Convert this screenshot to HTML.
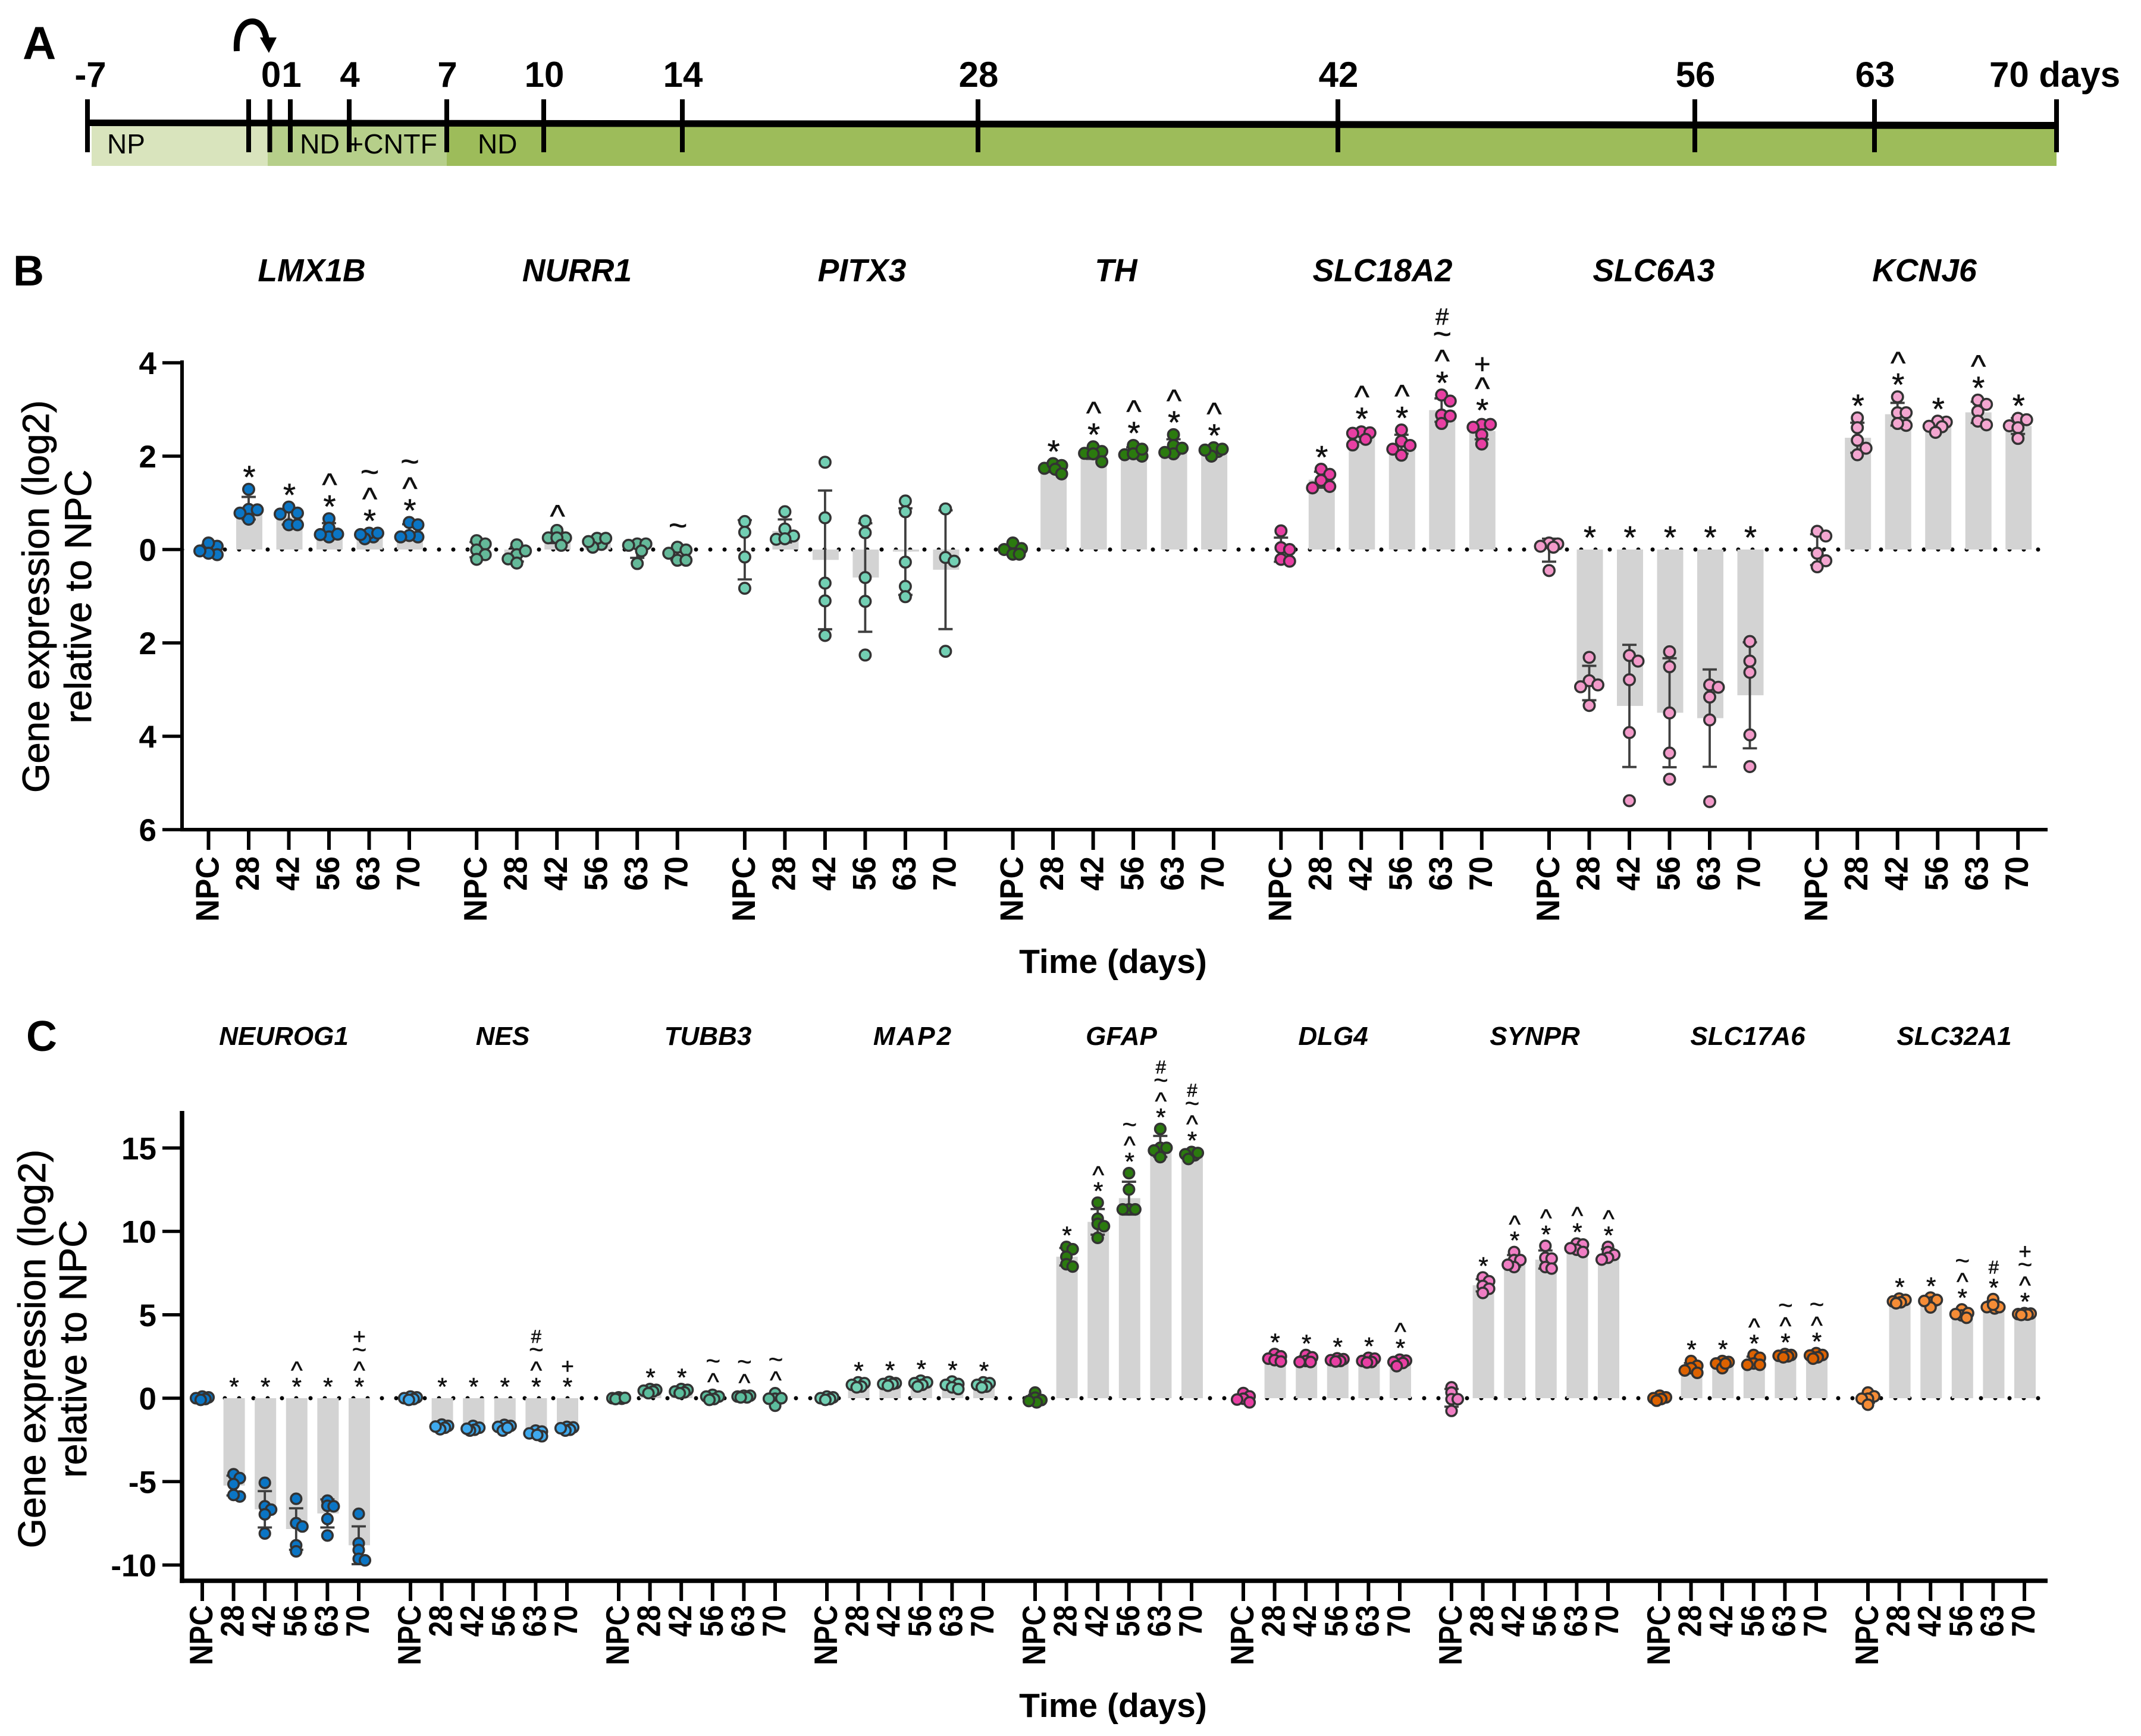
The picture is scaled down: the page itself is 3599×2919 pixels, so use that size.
<!DOCTYPE html>
<html lang="en">
<head>
<meta charset="utf-8">
<title>Gene expression time course</title>
<style>
html,body{margin:0;padding:0;background:#fff;}
svg{display:block;font-family:"Liberation Sans",Arial,sans-serif;}
</style>
</head>
<body>
<svg id="figure" xmlns="http://www.w3.org/2000/svg" width="3599" height="2919" viewBox="0 0 3599 2919">
  <rect x="0" y="0" width="3599" height="2919" fill="#fff"/>
  <g id="panel-a">
    <text x="38" y="99" font-size="78" font-weight="700">A</text>
    <rect x="154" y="212" width="296" height="67" fill="#d9e4bd"/>
    <rect x="450" y="212" width="301" height="67" fill="#b6cf8a"/>
    <rect x="751" y="212" width="2706" height="67" fill="#9dbc5a"/>
    <polygon points="147,201 3457,205 3457,217 147,212" fill="#000"/>
    <g id="timeline-ticks"></g>
    <g font-size="60" font-weight="700" text-anchor="middle" id="timeline-labels"></g>
    <text x="180" y="258" font-size="46">NP</text>
    <text x="504" y="258" font-size="46" textLength="231" lengthAdjust="spacingAndGlyphs">ND +CNTF</text>
    <text x="803" y="258" font-size="46">ND</text>
    <path d="M398,86 C396,50 410,36 424,36 C436,36 444,46 448,66" fill="none" stroke="#000" stroke-width="10"/>
    <polygon points="437,63 465,63 452,89" fill="#000"/>
  </g>
  <g id="panel-b"></g>
  <g id="panel-c"></g>
</svg>
<script>
/* ---------- Timeline data ---------- */
const timelineDays = [-7, 0, 1, 4, 7, 10, 14, 28, 42, 56, 63, 70];
const timelineLabels = ['-7', '0', '1', '4', '7', '10', '14', '28', '42', '56', '63', '70 days'];

/* ---------- Shared categories ---------- */
const timepoints = ['NPC', '28', '42', '56', '63', '70'];

/* ---------- Panel B data ---------- */
const panelBGenes = ['LMX1B', 'NURR1', 'PITX3', 'TH', 'SLC18A2', 'SLC6A3', 'KCNJ6'];
const panelBColors = ['#0b75c4', '#64b999', '#72cfb3', '#2b7a0f', '#e83fa3', '#f29ac9', '#f3a6d0'];
const panelBTickValues = [4, 2, 0, -2, -4, -6];
const panelBTickLabels = ['4', '2', '0', '2', '4', '6'];

const lmx1bValues = [[.07,.14,-.11,-.08,-.03],[1.29,.86,.65,.85,.78],[.91,.78,.53,.53,.76],[.66,.46,.27,.32,.33],[.27,.35,.35,.23,.32],[.58,.27,.30,.53,.27]];
const nurr1Values = [[.19,.12,-.01,-.11,-.21],[.10,-.11,-.03,-.2,-.29],[.41,.25,.25,.25,.09],[.11,.24,.24,.05,.17],[.12,.12,.09,-.03,-.30],[.05,-.01,-.08,-.23,-.23]];
const pitx3Values = [[.60,.37,-.16,-.83],[.81,.44,.29,.22,.23],[1.87,.68,-.72,-1.1,-1.84],[.61,.36,-.6,-1.11,-2.26],[1.04,.81,-.27,-.79,-1.01],[.87,-.17,-.25,-2.18]];
const thValues = [[.14,0,.02,-.1,-.1],[1.74,1.84,1.80,1.72,1.62],[2.2,2.1,2.06,2.05,1.88],[2.23,2.03,2.0,2.05,2.15],[2.46,2.23,2.05,2.08,2.17],[2.1,2.18,2.15,2.0,2.13]];
const slc18a2Values = [[.4,.04,0,-.21,-.25],[1.72,1.61,1.48,1.35,1.32],[2.52,2.5,2.36,2.49,2.24],[2.56,2.32,2.23,2.15,2.02],[3.31,3.18,2.88,2.86,2.7],[2.68,2.62,2.68,2.46,2.26]];
const slc6a3Values = [[.14,.12,.05,.07,-.45],[-2.31,-2.81,-2.94,-2.90,-3.34],[-2.27,-2.39,-2.79,-3.92,-5.38],[-2.19,-2.51,-3.5,-4.36,-4.92],[-2.9,-2.95,-3.16,-3.65,-5.4],[-1.97,-2.39,-2.63,-3.97,-4.65]];
const kcnj6Values = [[.39,.29,-.08,-.24,-.37],[2.82,2.61,2.34,2.17,2.03],[3.27,2.93,2.93,2.66,2.7],[2.73,2.75,2.63,2.64,2.51],[3.2,3.11,2.96,2.75,2.67],[2.81,2.78,2.65,2.61,2.38]];

const lmx1bMarks = ['', '*', '*', '*^', '*^~', '*^~'];
const nurr1Marks = ['', '', '^', '', '', '~'];
const pitx3Marks = ['', '', '', '', '', ''];
const thMarks = ['', '*', '*^', '*^', '*^', '*^'];
const slc18a2Marks = ['', '*', '*^', '*^', '*^~#', '*^+'];
const slc6a3Marks = ['', '*', '*', '*', '*', '*'];
const kcnj6Marks = ['', '*', '*^', '*', '*^', '*'];

/* ---------- Panel C data ---------- */
const panelCGenes = ['NEUROG1', 'NES', 'TUBB3', 'MAP2', 'GFAP', 'DLG4', 'SYNPR', 'SLC17A6', 'SLC32A1'];
const panelCColors = ['#0b75c4', '#3fa9ed', '#5cbd9d', '#72cfb3', '#2b7a0f', '#e83fa3', '#f07ec4', '#dd6200', '#f58c36'];
const panelCTickValues = [15, 10, 5, 0, -5, -10];
const panelCTickLabels = ['15', '10', '5', '0', '-5', '-10'];

const neurog1Values = [[.1,.05,0,-.05,-.1],[-4.56,-4.79,-5.15,-5.89,-5.8],[-5.07,-6.48,-6.68,-6.96,-8.11],[-6.03,-7.49,-7.69,-8.82,-9.18],[-6.14,-6.45,-6.48,-7.24,-8.23],[-6.93,-8.7,-9.1,-9.63,-9.72]];
const nesValues = [[.1,.05,0,-.05,-.1],[-1.58,-1.66,-1.77,-1.86,-1.7],[-1.66,-1.77,-1.89,-1.94,-1.83],[-1.66,-1.6,-1.72,-1.94,-1.77],[-1.94,-2.11,-2.0,-2.28,-2.2],[-1.75,-1.72,-1.89,-1.94,-1.8]];
const tubb3Values = [[.05,0,-.03,-.05,.02],[.55,.5,.45,.4,.3],[.55,.5,.4,.35,.3],[.2,.1,.1,-.05,-.1],[.15,.15,.1,.05,.05],[.3,-.03,-.45,-.03,0]];
const map2Values = [[.1,.05,0,-.05,-.1],[.95,.9,.8,.7,.65],[.98,.9,.85,.85,.75],[1.05,.95,.9,.8,.7],[1.0,.85,.8,.65,.55],[.95,.9,.8,.7,.65]];
const gfapValues = [[.34,.03,-.11,-.25,-.17],[9.07,8.93,8.48,8.03,7.89],[11.72,10.76,10.45,10.31,9.61],[13.49,12.51,11.32,11.32,11.32],[16.14,15.01,15.01,14.85,14.45],[14.56,14.76,14.7,14.62,14.34]];
const dlg4Values = [[.31,.11,-.03,-.08,-.25],[2.65,2.37,2.51,2.28,2.2],[2.59,2.45,2.23,2.17,2.17],[2.39,2.34,2.28,2.23,2.2],[2.42,2.37,2.17,2.23,2.14],[2.31,2.25,2.17,2.11,1.92]];
const synprValues = [[.65,.34,-.06,-.06,-.76],[7.24,7.01,6.73,6.56,6.31],[8.76,8.28,8.28,7.86,8.0],[9.13,8.42,8.37,7.86,7.77],[9.27,9.21,8.9,8.99,8.76],[9.07,8.76,8.59,8.42,8.31]];
const slc17a6Values = [[.15,.05,0,-.05,-.15],[2.23,1.94,1.8,1.66,1.52],[2.17,2.23,2.08,1.8,2.08],[2.59,2.42,2.08,2.0,2.0],[2.65,2.59,2.54,2.51,2.45],[2.7,2.59,2.56,2.45,2.37]];
const slc32a1Values = [[.34,.11,-.03,-.03,-.39],[5.97,5.89,5.75,5.8,5.69],[6.03,5.75,5.89,5.44,5.83],[5.32,4.96,5.1,4.82,5.04],[5.94,5.38,5.46,5.46,5.6],[5.1,5.07,5.04,5.01,4.99]];

const neurog1Marks = ['', '*', '*', '*^', '*', '*^~+'];
const nesMarks = ['', '*', '*', '*', '*^~#', '*+'];
const tubb3Marks = ['', '*', '*', '^~', '^~', '^~'];
const map2Marks = ['', '*', '*', '*', '*', '*'];
const gfapMarks = ['', '*', '*^', '*^~', '*^~#', '*^~#'];
const dlg4Marks = ['', '*', '*', '*', '*', '*^'];
const synprMarks = ['', '*', '*^', '*^', '*^', '*^'];
const slc17a6Marks = ['', '*', '*', '*^', '*^~', '*^~'];
const slc32a1Marks = ['', '*', '*', '*^~', '*#', '*^~+'];

const panelBSeries = [lmx1bValues, nurr1Values, pitx3Values, thValues, slc18a2Values, slc6a3Values, kcnj6Values];
const panelBMarks = [lmx1bMarks, nurr1Marks, pitx3Marks, thMarks, slc18a2Marks, slc6a3Marks, kcnj6Marks];
const panelCSeries = [neurog1Values, nesValues, tubb3Values, map2Values, gfapValues, dlg4Values, synprValues, slc17a6Values, slc32a1Values];
const panelCMarks = [neurog1Marks, nesMarks, tubb3Marks, map2Marks, gfapMarks, dlg4Marks, synprMarks, slc17a6Marks, slc32a1Marks];

/* ---------- Helpers ---------- */
const NS = 'http://www.w3.org/2000/svg';
function make(tag, parent, attrs, text) {
  const node = document.createElementNS(NS, tag);
  for (const k in attrs) node.setAttribute(k, attrs[k]);
  if (text !== undefined) node.textContent = text;
  parent.appendChild(node);
  return node;
}
function mean(a) { return a.reduce((s, v) => s + v, 0) / a.length; }
function sd(a) {
  const m = mean(a);
  return Math.sqrt(a.reduce((s, v) => s + (v - m) * (v - m), 0) / (a.length - 1));
}
/* Beeswarm: horizontal offsets derived from the values themselves.
   Offsets never exceed one step either side of centre; when no slot is
   clear of its neighbours the least-crowded slot is used, so dense groups
   overlap the way they do in the reference instead of spreading wider. */
function swarm(vals, yFn, minDist, step) {
  const candidates = [0, 1, -1, .5, -.5, .25, -.25, .75, -.75];
  const order = vals.map((v, i) => i).sort((a, b) => vals[b] - vals[a]);
  const placed = [];
  const out = new Array(vals.length).fill(0);
  order.forEach(i => {
    const y = yFn(vals[i]);
    let best = 0;
    let bestGap = -1;
    for (let k = 0; k < candidates.length; k++) {
      const off = candidates[k] * step;
      const gap = placed.reduce((g, p) => Math.min(g, Math.hypot(p.x - off, p.y - y)), Infinity);
      if (gap >= minDist) { best = off; break; }
      if (gap > bestGap) { bestGap = gap; best = off; }
    }
    out[i] = best;
    placed.push({ x: best, y: y });
  });
  return out;
}
const symbolLift = { '*': .57, '^': .5, '~': .27, '#': .35, '+': .35 };
const symbolScale = { '*': 1, '^': 1, '~': 1, '#': .74, '+': .88 };

/* ---------- Timeline ---------- */
const timelineX = day => {
  /* piecewise day axis: the schematic is not linear in days */
  const knots = [[-7,147],[0,453.5],[1,488],[4,587],[7,751],[10,914],[14,1147],[28,1644],[42,2249],[56,2849],[63,3151],[70,3457]];
  for (let i = 1; i < knots.length; i++) {
    if (day <= knots[i][0]) {
      const a = knots[i-1], b = knots[i];
      return a[1] + (day - a[0]) * (b[1] - a[1]) / (b[0] - a[0]);
    }
  }
  return 3457;
};
const tickGroup = document.getElementById('timeline-ticks');
const labelGroup = document.getElementById('timeline-labels');
/* the extra seeding tick just before day 0 */
const seedTick = make('rect', tickGroup, { x: 414, y: 167, width: 8, height: 89, fill: '#000' });


timelineDays.forEach((d, i) => {
  const x = timelineX(d);
  const tick = make('rect', tickGroup, { x: x - 4, y: 167, width: 8, height: 89, fill: '#000' });
  
  
  const last = i === timelineDays.length - 1;
  const lab = make('text', labelGroup, {
    x: last ? 3344 : x + (d === -7 ? 5 : (d === 0 || d === 1) ? 2 : 1),
    y: 146,
    'text-anchor': last ? 'start' : 'middle'
  }, timelineLabels[i]);
  
  
});

/* ---------- Panel drawing ---------- */
function drawPanel(root, cfg) {
  const yOf = v => cfg.zeroY - v * cfg.unit;
  const xOf = (g, i) => cfg.x0 + g * cfg.groupStep + i * cfg.itemStep;

  const letter = make('text', root, { x: cfg.letterX, y: cfg.letterY, 'font-size': 72, 'font-weight': 700 }, cfg.letter);
  
  

  const yTitle = make('text', root, { transform: 'translate(' + cfg.yTitleX + ',' + cfg.yTitleY + ') rotate(-90)', 'text-anchor': 'middle', 'font-size': cfg.yTitleSize, stroke: '#000', 'stroke-width': .8 });
  
  
  make('tspan', yTitle, { x: 0, y: 0 }, 'Gene expression (log2)');
  make('tspan', yTitle, { x: 0, y: cfg.yTitleGap }, 'relative to NPC');

  const xTitle = make('text', root, { x: 1871, y: cfg.xTitleY, 'text-anchor': 'middle', 'font-size': 57, 'font-weight': 700 }, 'Time (days)');
  
  

  const zero = make('line', root, { x1: 306, x2: 3442, y1: yOf(0), y2: yOf(0), stroke: '#000', 'stroke-width': 7, 'stroke-linecap': 'round', 'stroke-dasharray': '0 24' });
  
  

  cfg.genes.forEach((gene, g) => {
    const geneGroup = make('g', root, {});
    
    

    const title = make('text', geneGroup, { x: cfg.titleX[g], y: cfg.titleY, 'text-anchor': 'middle', 'font-size': cfg.titleSize, 'font-weight': 700, 'font-style': 'italic', 'letter-spacing': gene === 'MAP2' ? 3 : 0 }, gene);
    
    

    timepoints.forEach((label, i) => {
      const x = xOf(g, i);
      const vals = cfg.series[g][i];
      const m = mean(vals);
      const s = sd(vals);

      const bar = make('rect', geneGroup, { x: x + 1 - cfg.barW / 2, y: Math.min(yOf(0), yOf(m)), width: cfg.barW, height: Math.abs(yOf(m) - yOf(0)), fill: '#d3d3d3' });
      
      

      const err = make('path', geneGroup, {
        d: 'M' + x + ',' + yOf(m + s) + 'V' + yOf(m - s) +
           'M' + (x - 12) + ',' + yOf(m + s) + 'H' + (x + 12) +
           'M' + (x - 12) + ',' + yOf(m - s) + 'H' + (x + 12),
        fill: 'none', stroke: '#3f3f3f', 'stroke-width': 3.8
      });
      
      

      const offsets = swarm(vals, yOf, cfg.minDist, cfg.step);
      vals.forEach((v, k) => {
        const dot = make('circle', geneGroup, { cx: x + offsets[k], cy: yOf(v), r: cfg.dotR, fill: cfg.colors[g], stroke: '#333', 'stroke-width': 3.6 });
        
        
      });

      const top = Math.max(0, Math.max.apply(null, vals), m + s);
      let c = yOf(top) - cfg.markGap;
      Array.from(cfg.marks[g][i]).forEach(sym => {
        const size = cfg.markSize * symbolScale[sym];
        const t = make('text', geneGroup, { x: x + 1, y: c + symbolLift[sym] * size, 'text-anchor': 'middle', 'font-size': size, fill: '#111', stroke: '#111', 'stroke-width': .6 }, sym);
        
        
        c -= cfg.markStep;
      });

      const tick = make('line', geneGroup, { x1: x, x2: x, y1: cfg.axisY, y2: cfg.axisY + cfg.tickLen, stroke: '#000', 'stroke-width': 6 });
      
      

      const lab = make('text', geneGroup, { transform: 'translate(' + (x + 17) + ',' + cfg.labelTop + ') rotate(-90) scale(' + cfg.labelScale + ',1)', 'text-anchor': 'end', 'font-size': 55, 'font-weight': 700 }, label);
      
      
    });
  });

  const yAxis = make('line', root, { x1: 306, x2: 306, y1: cfg.axisTop, y2: cfg.axisY + cfg.axisW / 2, stroke: '#000', 'stroke-width': cfg.axisW });
  
  

  const xAxis = make('line', root, { x1: 306 - cfg.axisW / 2, x2: 3442, y1: cfg.axisY, y2: cfg.axisY, stroke: '#000', 'stroke-width': cfg.axisW });
  
  

  cfg.tickValues.forEach((v, i) => {
    const tick = make('line', root, { x1: 273, x2: 306, y1: yOf(v), y2: yOf(v), stroke: '#000', 'stroke-width': 5.5 });
    
    
    const lab = make('text', root, { x: 263, y: yOf(v) + 19, 'text-anchor': 'end', 'font-size': 53, 'font-weight': 700 }, cfg.tickLabels[i]);
    
    
  });
}

drawPanel(document.getElementById('panel-b'), {
  letter: 'B', letterX: 22, letterY: 480,
  genes: panelBGenes, colors: panelBColors, series: panelBSeries, marks: panelBMarks,
  tickValues: panelBTickValues, tickLabels: panelBTickLabels,
  titleX: [524, 970, 1449, 1876, 2324, 2780, 3235], titleY: 473, titleSize: 53.5,
  zeroY: 924, unit: 78.5, axisY: 1395, axisTop: 606, axisW: 6, tickLen: 34,
  x0: 350.5, groupStep: 450.7, itemStep: 67.5, barW: 44,
  dotR: 9.2, minDist: 14, step: 14.5,
  markSize: 54, markGap: 33, markStep: 33,
  labelTop: 1440, labelScale: .945,
  yTitleX: 82, yTitleY: 1003, yTitleSize: 63.5, yTitleGap: 71, xTitleY: 1636
});

drawPanel(document.getElementById('panel-c'), {
  letter: 'C', letterX: 44, letterY: 1767,
  genes: panelCGenes, colors: panelCColors, series: panelCSeries, marks: panelCMarks,
  tickValues: panelCTickValues, tickLabels: panelCTickLabels,
  titleX: [477, 845, 1190, 1535, 1885, 2241, 2580, 2938, 3285], titleY: 1757, titleSize: 44,
  zeroY: 2351, unit: 28.05, axisY: 2658, axisTop: 1868, axisW: 7.5, tickLen: 34,
  x0: 340, groupStep: 350, itemStep: 52.6, barW: 36,
  dotR: 8.8, minDist: 8.5, step: 10.5,
  markSize: 42, markGap: 29, markStep: 25,
  labelTop: 2699, labelScale: .87,
  yTitleX: 76, yTitleY: 2268, yTitleSize: 64.5, yTitleGap: 69, xTitleY: 2887
});
</script>
</body>
</html>
